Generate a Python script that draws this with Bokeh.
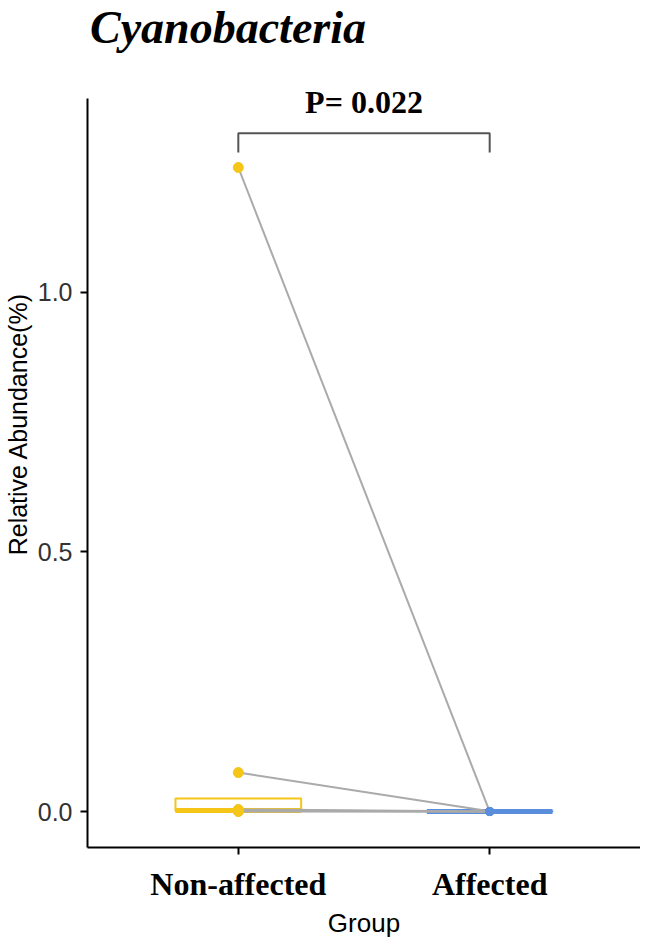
from bokeh.plotting import figure
from bokeh.models import FixedTicker, Label, Range1d
from bokeh.embed import file_html
from bokeh.resources import INLINE

# ---- data ----
groups = ["Non-affected", "Affected"]
group_pos = [1, 2]
non_affected = [1.24, 0.075, 0.004, 0.002, 0.001, 0.0]
affected = [0.0, 0.0005, 0.0, 0.0, 0.0, 0.0]
box_q1 = [0.001, 0.0]
box_median = [0.002, 0.0]
box_q3 = [0.025, 0.0005]
group_colors = ["#F5C518", "#5A8EDC"]
y_ticks = [0.0, 0.5, 1.0]
y_tick_labels = ["0.0", "0.5", "1.0"]
p_text = "P= 0.022"
title_text = "Cyanobacteria"

y_lo, y_axis_top, y_canvas_top = -0.0692, 1.373, 1.5615

p = figure(width=640, height=940, output_backend="svg", toolbar_location=None,
           x_range=Range1d(0.4, 2.6), y_range=Range1d(y_lo, y_canvas_top),
           min_border_left=80, min_border_right=0, min_border_top=0,
           min_border_bottom=0)
p.outline_line_color = None
p.grid.visible = False
p.background_fill_color = "white"

# boxes
bw = 0.5
p.quad(left=[g - bw / 2 for g in group_pos], right=[g + bw / 2 for g in group_pos],
       bottom=box_q1, top=box_q3, fill_color="white", fill_alpha=0.0,
       line_color=group_colors, line_width=2)
p.segment(x0=[g - bw / 2 for g in group_pos], x1=[g + bw / 2 for g in group_pos],
          y0=box_median, y1=box_median, line_color=group_colors, line_width=5)

# paired lines
xs = [[group_pos[0], group_pos[1]] for _ in non_affected]
ys = [[a, b] for a, b in zip(non_affected, affected)]
p.multi_line(xs=xs, ys=ys, line_color="#AAAAAA", line_width=2)

# points
p.scatter(x=[group_pos[0]] * len(non_affected), y=non_affected, size=10,
          color=group_colors[0], line_color=group_colors[0])
p.scatter(x=[group_pos[1]] * len(affected), y=affected, size=8,
          color=group_colors[1], line_color=group_colors[1])

# significance bracket
top_y = 1.306
foot_y = 1.269
p.line(x=[group_pos[0], group_pos[0], group_pos[1], group_pos[1]],
       y=[foot_y, top_y, top_y, foot_y], line_color="#555555", line_width=2)
p.add_layout(Label(x=1.5, y=1.367, text=p_text, text_font="Liberation Serif",
                   text_font_style="bold", text_font_size="32px",
                   text_align="center", text_baseline="middle", text_color="black"))
p.add_layout(Label(x=0.41, y=1.5096, text=title_text, text_font="Liberation Serif",
                   text_font_style="bold italic", text_font_size="46px",
                   text_align="left", text_baseline="middle", text_color="black"))

# axes
p.xaxis.ticker = FixedTicker(ticks=group_pos)
p.xaxis.major_label_overrides = {g: n for g, n in zip(group_pos, groups)}
p.yaxis.ticker = FixedTicker(ticks=y_ticks)
p.yaxis.major_label_overrides = {t: l for t, l in zip(y_ticks, y_tick_labels)}
p.yaxis.bounds = (y_lo, y_axis_top)
for ax in (p.xaxis, p.yaxis):
    ax.axis_line_color = "black"
    ax.axis_line_width = 2
    ax.major_tick_line_color = "black"
    ax.major_tick_line_width = 2
    ax.major_tick_out = 7
    ax.major_tick_in = 0
    ax.minor_tick_line_color = None

p.xaxis.axis_label = "Group"
p.xaxis.axis_label_text_font = "Liberation Sans"
p.xaxis.axis_label_text_font_style = "normal"
p.xaxis.axis_label_text_font_size = "26px"
p.xaxis.axis_label_text_color = "black"
p.xaxis.axis_label_standoff = 3
p.xaxis.major_label_text_font = "Liberation Serif"
p.xaxis.major_label_text_font_style = "bold"
p.xaxis.major_label_text_font_size = "32px"
p.xaxis.major_label_text_color = "black"
p.xaxis.major_label_standoff = 11

p.yaxis.axis_label = "Relative Abundance(%)"
p.yaxis.axis_label_text_font = "Liberation Sans"
p.yaxis.axis_label_text_font_style = "normal"
p.yaxis.axis_label_text_font_size = "25px"
p.yaxis.axis_label_text_color = "black"
p.yaxis.axis_label_standoff = 3
p.yaxis.major_label_text_font = "Liberation Sans"
p.yaxis.major_label_text_font_size = "25px"
p.yaxis.major_label_text_color = "#333333"
p.yaxis.major_label_standoff = 8

open("out.html", "w").write(file_html(p, INLINE))
